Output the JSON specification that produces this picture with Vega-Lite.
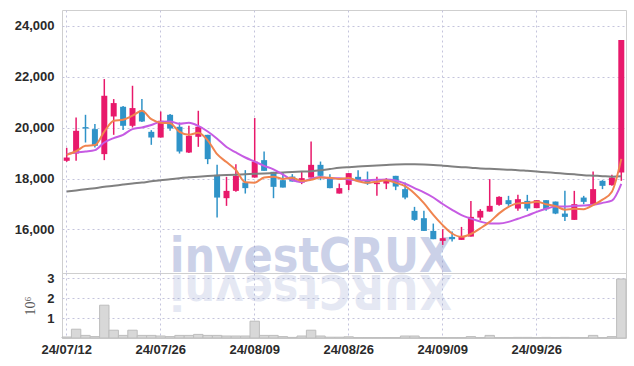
{
  "$schema": "https://vega.github.io/schema/vega-lite/v6.json",
  "autosize": {"type": "pad"},
  "padding": {"left": 13, "top": 9, "right": 9, "bottom": 5},
  "bounds": "flush",
  "spacing": 0,
  "background": "white",
  "config": {
    "view": {"stroke": "#cfcfcf", "strokeWidth": 1},
    "axis": {
      "labelFont": "Liberation Sans Narrow, Liberation Sans, Arial, sans-serif",
      "labelFontSize": 13,
      "labelFontWeight": "bold",
      "labelColor": "#2a2a2a",
      "gridColor": "#c4c4dc",
      "gridDash": [2, 3],
      "gridWidth": 1,
      "domain": false,
      "ticks": false,
      "labelOverlap": false
    }
  },
  "data": {
    "values": [
      {"date": "24/07/12", "open": 18695, "high": 19205, "low": 18655, "close": 18824, "ma5": 18930, "ma10": 18958, "ma60": 17488, "vol": 0.05},
      {"date": "24/07/15", "open": 18981, "high": 20396, "low": 18695, "close": 19873, "ma5": 19070, "ma10": 19021, "ma60": 17531, "vol": 0.44},
      {"date": "24/07/16", "open": 20019, "high": 20502, "low": 19414, "close": 19964, "ma5": 19284, "ma10": 19060, "ma60": 17578, "vol": 0.13},
      {"date": "24/07/17", "open": 19940, "high": 20137, "low": 19217, "close": 19284, "ma5": 19312, "ma10": 19115, "ma60": 17622, "vol": 0.07},
      {"date": "24/07/18", "open": 18958, "high": 21905, "low": 18722, "close": 21249, "ma5": 19839, "ma10": 19414, "ma60": 17673, "vol": 1.64},
      {"date": "24/07/19", "open": 20436, "high": 21119, "low": 19716, "close": 20962, "ma5": 20266, "ma10": 19587, "ma60": 17716, "vol": 0.39},
      {"date": "24/07/22", "open": 20817, "high": 20850, "low": 19901, "close": 20070, "ma5": 20306, "ma10": 19716, "ma60": 17763, "vol": 0.13},
      {"date": "24/07/23", "open": 20070, "high": 21642, "low": 20003, "close": 20766, "ma5": 20466, "ma10": 19940, "ma60": 17806, "vol": 0.39},
      {"date": "24/07/24", "open": 20660, "high": 21119, "low": 20220, "close": 20239, "ma5": 20657, "ma10": 20003, "ma60": 17842, "vol": 0.13},
      {"date": "24/07/25", "open": 19834, "high": 19900, "low": 19323, "close": 19610, "ma5": 20329, "ma10": 20100, "ma60": 17889, "vol": 0.13},
      {"date": "24/07/26", "open": 19610, "high": 20632, "low": 19610, "close": 20267, "ma5": 20190, "ma10": 20228, "ma60": 17928, "vol": 0.10},
      {"date": "24/07/29", "open": 20502, "high": 20530, "low": 19873, "close": 19964, "ma5": 20169, "ma10": 20238, "ma60": 17975, "vol": 0.07},
      {"date": "24/07/30", "open": 20031, "high": 20200, "low": 18981, "close": 19060, "ma5": 19828, "ma10": 20147, "ma60": 18015, "vol": 0.13},
      {"date": "24/07/31", "open": 19021, "high": 20070, "low": 19000, "close": 19677, "ma5": 19716, "ma10": 20186, "ma60": 18046, "vol": 0.13},
      {"date": "24/08/01", "open": 19638, "high": 20660, "low": 19244, "close": 20031, "ma5": 19800, "ma10": 20065, "ma60": 18074, "vol": 0.18},
      {"date": "24/08/02", "open": 19716, "high": 19716, "low": 18565, "close": 18761, "ma5": 19499, "ma10": 19845, "ma60": 18097, "vol": 0.13},
      {"date": "24/08/05", "open": 18144, "high": 18537, "low": 16466, "close": 17252, "ma5": 18956, "ma10": 19563, "ma60": 18117, "vol": 0.13},
      {"date": "24/08/06", "open": 17228, "high": 18066, "low": 16926, "close": 17515, "ma5": 18647, "ma10": 19238, "ma60": 18136, "vol": 0.10},
      {"date": "24/08/07", "open": 17515, "high": 18565, "low": 17480, "close": 18105, "ma5": 18333, "ma10": 19024, "ma60": 18152, "vol": 0.10},
      {"date": "24/08/08", "open": 17842, "high": 18329, "low": 17410, "close": 17622, "ma5": 17851, "ma10": 18825, "ma60": 18168, "vol": 0.10},
      {"date": "24/08/09", "open": 18038, "high": 20373, "low": 18038, "close": 18667, "ma5": 17832, "ma10": 18665, "ma60": 18184, "vol": 0.84},
      {"date": "24/08/12", "open": 18722, "high": 19060, "low": 18302, "close": 18302, "ma5": 18042, "ma10": 18499, "ma60": 18199, "vol": 0.13},
      {"date": "24/08/13", "open": 18262, "high": 18262, "low": 17228, "close": 17673, "ma5": 18074, "ma10": 18361, "ma60": 18219, "vol": 0.13},
      {"date": "24/08/14", "open": 17936, "high": 18235, "low": 17645, "close": 17645, "ma5": 17982, "ma10": 18157, "ma60": 18239, "vol": 0.07},
      {"date": "24/08/16", "open": 18078, "high": 18172, "low": 17881, "close": 17881, "ma5": 18034, "ma10": 17942, "ma60": 18258, "vol": 0.03},
      {"date": "24/08/19", "open": 17842, "high": 18262, "low": 17779, "close": 18015, "ma5": 17903, "ma10": 17868, "ma60": 18274, "vol": 0.10},
      {"date": "24/08/20", "open": 18038, "high": 19453, "low": 18038, "close": 18537, "ma5": 17950, "ma10": 17996, "ma60": 18290, "vol": 0.39},
      {"date": "24/08/21", "open": 18537, "high": 18667, "low": 17936, "close": 18105, "ma5": 18037, "ma10": 18055, "ma60": 18325, "vol": 0.10},
      {"date": "24/08/22", "open": 18015, "high": 18172, "low": 17622, "close": 17622, "ma5": 18032, "ma10": 18007, "ma60": 18372, "vol": 0.04},
      {"date": "24/08/23", "open": 17410, "high": 17802, "low": 17410, "close": 17622, "ma5": 17980, "ma10": 18007, "ma60": 18419, "vol": 0.04},
      {"date": "24/08/26", "open": 17751, "high": 18211, "low": 17543, "close": 18211, "ma5": 18019, "ma10": 17961, "ma60": 18447, "vol": 0.06},
      {"date": "24/08/27", "open": 18066, "high": 18329, "low": 17909, "close": 17909, "ma5": 17894, "ma10": 17922, "ma60": 18470, "vol": 0.02},
      {"date": "24/08/28", "open": 17936, "high": 18274, "low": 17751, "close": 17802, "ma5": 17833, "ma10": 17935, "ma60": 18494, "vol": 0.02},
      {"date": "24/08/29", "open": 17779, "high": 18066, "low": 17319, "close": 17842, "ma5": 17877, "ma10": 17955, "ma60": 18514, "vol": 0.02},
      {"date": "24/08/30", "open": 17802, "high": 18015, "low": 17583, "close": 17909, "ma5": 17935, "ma10": 17957, "ma60": 18533, "vol": 0.02},
      {"date": "24/09/02", "open": 18105, "high": 18105, "low": 17543, "close": 17684, "ma5": 17829, "ma10": 17924, "ma60": 18553, "vol": 0.02},
      {"date": "24/09/03", "open": 17583, "high": 17842, "low": 17189, "close": 17252, "ma5": 17698, "ma10": 17796, "ma60": 18561, "vol": 0.10},
      {"date": "24/09/04", "open": 16730, "high": 16887, "low": 16336, "close": 16376, "ma5": 17413, "ma10": 17623, "ma60": 18557, "vol": 0.10},
      {"date": "24/09/05", "open": 16442, "high": 16730, "low": 15943, "close": 15943, "ma5": 17033, "ma10": 17455, "ma60": 18549, "vol": 0.02},
      {"date": "24/09/06", "open": 15943, "high": 16231, "low": 15617, "close": 15617, "ma5": 16574, "ma10": 17255, "ma60": 18533, "vol": 0.02},
      {"date": "24/09/09", "open": 15551, "high": 16010, "low": 15393, "close": 15657, "ma5": 16169, "ma10": 16999, "ma60": 18506, "vol": 0.02},
      {"date": "24/09/10", "open": 15708, "high": 15916, "low": 15523, "close": 15617, "ma5": 15842, "ma10": 16770, "ma60": 18474, "vol": 0.02},
      {"date": "24/09/11", "open": 15590, "high": 16100, "low": 15590, "close": 15720, "ma5": 15711, "ma10": 16562, "ma60": 18447, "vol": 0.02},
      {"date": "24/09/12", "open": 15720, "high": 17122, "low": 15720, "close": 16494, "ma5": 15821, "ma10": 16427, "ma60": 18427, "vol": 0.07},
      {"date": "24/09/13", "open": 16466, "high": 16797, "low": 16364, "close": 16730, "ma5": 16044, "ma10": 16309, "ma60": 18396, "vol": 0.02},
      {"date": "24/09/19", "open": 16702, "high": 17975, "low": 16702, "close": 16926, "ma5": 16297, "ma10": 16233, "ma60": 18380, "vol": 0.13},
      {"date": "24/09/20", "open": 16966, "high": 17307, "low": 16926, "close": 17280, "ma5": 16630, "ma10": 16236, "ma60": 18360, "vol": 0.02},
      {"date": "24/09/23", "open": 17150, "high": 17319, "low": 16926, "close": 16993, "ma5": 16885, "ma10": 16298, "ma60": 18345, "vol": 0.02},
      {"date": "24/09/24", "open": 16820, "high": 17358, "low": 16730, "close": 17189, "ma5": 17024, "ma10": 16422, "ma60": 18329, "vol": 0.03},
      {"date": "24/09/25", "open": 17122, "high": 17358, "low": 16730, "close": 16820, "ma5": 17042, "ma10": 16543, "ma60": 18301, "vol": 0.03},
      {"date": "24/09/26", "open": 16836, "high": 17150, "low": 16836, "close": 17150, "ma5": 17086, "ma10": 16692, "ma60": 18274, "vol": 0.02},
      {"date": "24/09/27", "open": 17150, "high": 17150, "low": 16730, "close": 16796, "ma5": 16990, "ma10": 16810, "ma60": 18246, "vol": 0.03},
      {"date": "24/09/30", "open": 17095, "high": 17095, "low": 16600, "close": 16624, "ma5": 16916, "ma10": 16900, "ma60": 18219, "vol": 0.02},
      {"date": "24/10/02", "open": 16624, "high": 17515, "low": 16336, "close": 16494, "ma5": 16777, "ma10": 16900, "ma60": 18191, "vol": 0.03},
      {"date": "24/10/04", "open": 16376, "high": 17515, "low": 16376, "close": 16993, "ma5": 16811, "ma10": 16927, "ma60": 18164, "vol": 0.02},
      {"date": "24/10/07", "open": 17252, "high": 17319, "low": 16993, "close": 17083, "ma5": 16798, "ma10": 16942, "ma60": 18133, "vol": 0.02},
      {"date": "24/10/08", "open": 16993, "high": 18274, "low": 16993, "close": 17583, "ma5": 16955, "ma10": 16973, "ma60": 18113, "vol": 0.13},
      {"date": "24/10/10", "open": 17909, "high": 17936, "low": 17583, "close": 17712, "ma5": 17173, "ma10": 17044, "ma60": 18093, "vol": 0.02},
      {"date": "24/10/11", "open": 17740, "high": 18144, "low": 17712, "close": 18038, "ma5": 17482, "ma10": 17129, "ma60": 18074, "vol": 0.07},
      {"date": "24/10/14", "open": 18235, "high": 23438, "low": 17909, "close": 23438, "ma5": 18771, "ma10": 17791, "ma60": 18085, "vol": 2.95}
    ]
  },
  "vconcat": [
    {
      "width": 564,
      "height": 263,
      "encoding": {
        "x": {
          "field": "date",
          "type": "ordinal",
          "scale": {"type": "band", "paddingInner": 0, "paddingOuter": 0},
          "axis": {"values": ["24/07/12", "24/07/26", "24/08/09", "24/08/26", "24/09/09", "24/09/26"], "labels": false, "grid": true, "title": null}
        }
      },
      "layer": [
        {
          "data": {"values": [{"t": "investCRUX"}]},
          "mark": {"type": "text", "font": "DejaVu Sans Condensed, DejaVu Sans, sans-serif", "fontWeight": "bold", "fontSize": 48, "align": "center", "baseline": "alphabetic", "fill": "#7f8fc8", "opacity": 0.4},
          "encoding": {
            "text": {"field": "t"},
            "x": {"datum": "24/08/20", "type": "ordinal"},
            "y": {"datum": 14330, "type": "quantitative"}
          }
        },
        {
          "mark": {"type": "rule", "strokeWidth": 1.5},
          "encoding": {
            "y": {
              "field": "low",
              "type": "quantitative",
              "scale": {"domain": [14290, 24617], "nice": false, "zero": false},
              "axis": {"values": [16000, 18000, 20000, 22000, 24000], "format": ",d", "title": null, "labelPadding": 8, "grid": true, "labelOverlap": false}
            },
            "y2": {"field": "high"},
            "color": {"condition": {"test": "datum.close >= datum.open", "value": "#e8196b"}, "value": "#2f93c8"}
          }
        },
        {
          "mark": {"type": "bar", "size": 6},
          "encoding": {
            "y": {"field": "open", "type": "quantitative"},
            "y2": {"field": "close"},
            "color": {"condition": {"test": "datum.close >= datum.open", "value": "#e8196b"}, "value": "#2f93c8"}
          }
        },
        {
          "mark": {"type": "line", "color": "#808080", "strokeWidth": 2, "interpolate": "monotone"},
          "encoding": {"y": {"field": "ma60", "type": "quantitative"}}
        },
        {
          "mark": {"type": "line", "color": "#c65be3", "strokeWidth": 2, "interpolate": "monotone"},
          "encoding": {"y": {"field": "ma10", "type": "quantitative"}}
        },
        {
          "mark": {"type": "line", "color": "#f0844f", "strokeWidth": 2, "interpolate": "monotone"},
          "encoding": {"y": {"field": "ma5", "type": "quantitative"}}
        }
      ]
    },
    {
      "width": 564,
      "height": 65,
      "encoding": {
        "x": {
          "field": "date",
          "type": "ordinal",
          "scale": {"type": "band", "paddingInner": 0, "paddingOuter": 0},
          "axis": {"values": ["24/07/12", "24/07/26", "24/08/09", "24/08/26", "24/09/09", "24/09/26"], "labels": true, "labelAngle": 0, "labelPadding": 5, "grid": true, "title": null}
        }
      },
      "layer": [
        {
          "mark": {"type": "bar", "fill": "#d8d8d8", "stroke": "#bdbdbd", "strokeWidth": 1},
          "encoding": {
            "y": {
              "field": "vol",
              "type": "quantitative",
              "scale": {"domain": [0, 3.25], "nice": false},
              "axis": {"values": [1, 2, 3], "format": "d", "title": "10⁶", "titleFont": "Liberation Serif", "titleFontSize": 14, "titleFontWeight": "normal", "titleColor": "#555555", "titlePadding": 9, "labelPadding": 8, "grid": true, "labelOverlap": false}
            }
          }
        },
        {
          "data": {"values": [{"t": "XURCtsevni"}]},
          "mark": {"type": "text", "font": "DejaVu Sans Condensed, DejaVu Sans, sans-serif", "fontWeight": "bold", "fontSize": 48, "align": "center", "baseline": "alphabetic", "angle": 180, "fill": "#7f8fc8", "opacity": 0.2},
          "encoding": {
            "text": {"field": "t"},
            "x": {"datum": "24/08/20", "type": "ordinal"},
            "y": {
              "datum": 3.15,
              "type": "quantitative",
              "axis": {"values": [1, 2, 3], "format": "d", "title": "10⁶", "titleFont": "Liberation Serif", "titleFontSize": 14, "titleFontWeight": "normal", "titleColor": "#555555", "titlePadding": 9, "labelPadding": 8, "grid": true, "labelOverlap": false}
            }
          }
        }
      ]
    }
  ]
}
